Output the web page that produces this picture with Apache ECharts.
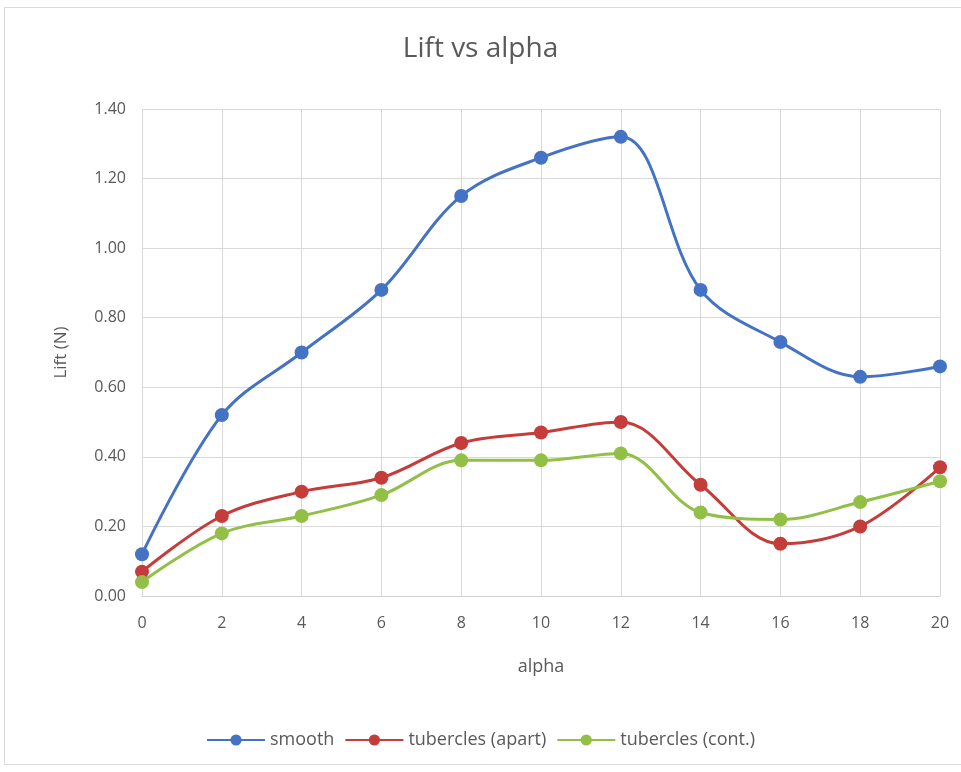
<!DOCTYPE html>
<html>
<head>
<meta charset="utf-8">
<script src="https://cdn.jsdelivr.net/npm/echarts@6/dist/echarts.min.js"></script>
<style>
  html, body { margin: 0; padding: 0; background: #fff; }
  #chart { width: 961px; height: 772px; }
</style>
</head>
<body>
<div id="chart"></div>
<script>
// Angle of attack (degrees)
const alpha = [0, 2, 4, 6, 8, 10, 12, 14, 16, 18, 20];
// Measured lift (N) per configuration
const smooth = [0.12, 0.52, 0.70, 0.88, 1.15, 1.26, 1.32, 0.88, 0.73, 0.63, 0.66];
const tuberclesApart = [0.07, 0.23, 0.30, 0.34, 0.44, 0.47, 0.50, 0.32, 0.15, 0.20, 0.37];
const tuberclesCont = [0.04, 0.18, 0.23, 0.29, 0.39, 0.39, 0.41, 0.24, 0.22, 0.27, 0.33];

const seriesNames = ['smooth', 'tubercles (apart)', 'tubercles (cont.)'];
const seriesValues = [smooth, tuberclesApart, tuberclesCont];
const seriesColors = ['#4472C4', '#C43D3A', '#92C046'];

const font = '"Open Sans", "Liberation Sans", sans-serif';
const textGrey = '#595959';

const chart = echarts.init(document.getElementById('chart'));

chart.setOption({
  animation: false,
  backgroundColor: '#fff',
  textStyle: { fontFamily: font },
  graphic: [{
    type: 'rect',
    shape: { x: 4.5, y: 7.5, width: 960, height: 757 },
    style: { fill: 'none', stroke: '#d9d9d9', lineWidth: 1 },
    silent: true
  }],
  title: {
    text: 'Lift vs alpha',
    left: 'center',
    top: 30,
    textStyle: { fontFamily: font, fontSize: 28, fontWeight: 'normal', color: textGrey }
  },
  legend: {
    bottom: 18,
    left: 'center',
    itemWidth: 58,
    itemHeight: 14,
    itemGap: 10,
    textStyle: { fontFamily: font, fontSize: 18, color: textGrey },
    data: seriesNames
  },
  grid: { left: 142, right: 21, top: 109, bottom: 176 },
  xAxis: {
    type: 'value',
    min: 0, max: 20, interval: 2,
    name: 'alpha',
    nameLocation: 'middle',
    nameGap: 62,
    nameTextStyle: { fontFamily: font, fontSize: 18, color: textGrey },
    axisLine: { show: true, lineStyle: { color: '#d0d0d0', width: 1 } },
    axisTick: { show: false },
    axisLabel: { fontFamily: font, fontSize: 16, color: textGrey, margin: 19 },
    splitLine: { show: true, lineStyle: { color: '#d9d9d9', width: 1 } }
  },
  yAxis: {
    type: 'value',
    min: 0, max: 1.4, interval: 0.2,
    name: 'Lift (N)',
    nameLocation: 'middle',
    nameRotate: 90,
    nameGap: 72,
    nameTextStyle: { fontFamily: font, fontSize: 17, color: textGrey },
    axisLine: { show: false },
    axisTick: { show: false },
    axisLabel: {
      fontFamily: font, fontSize: 16, color: textGrey, margin: 16,
      formatter: v => v.toFixed(2)
    },
    splitLine: { show: true, lineStyle: { color: '#d9d9d9', width: 1 } }
  },
  series: seriesNames.map((name, i) => ({
    name,
    type: 'line',
    smooth: 0.35,
    symbol: 'circle',
    symbolSize: 14,
    color: seriesColors[i],
    lineStyle: { width: 3, color: seriesColors[i] },
    itemStyle: { color: seriesColors[i] },
    data: alpha.map((a, k) => [a, seriesValues[i][k]])
  }))
});
</script>
</body>
</html>
